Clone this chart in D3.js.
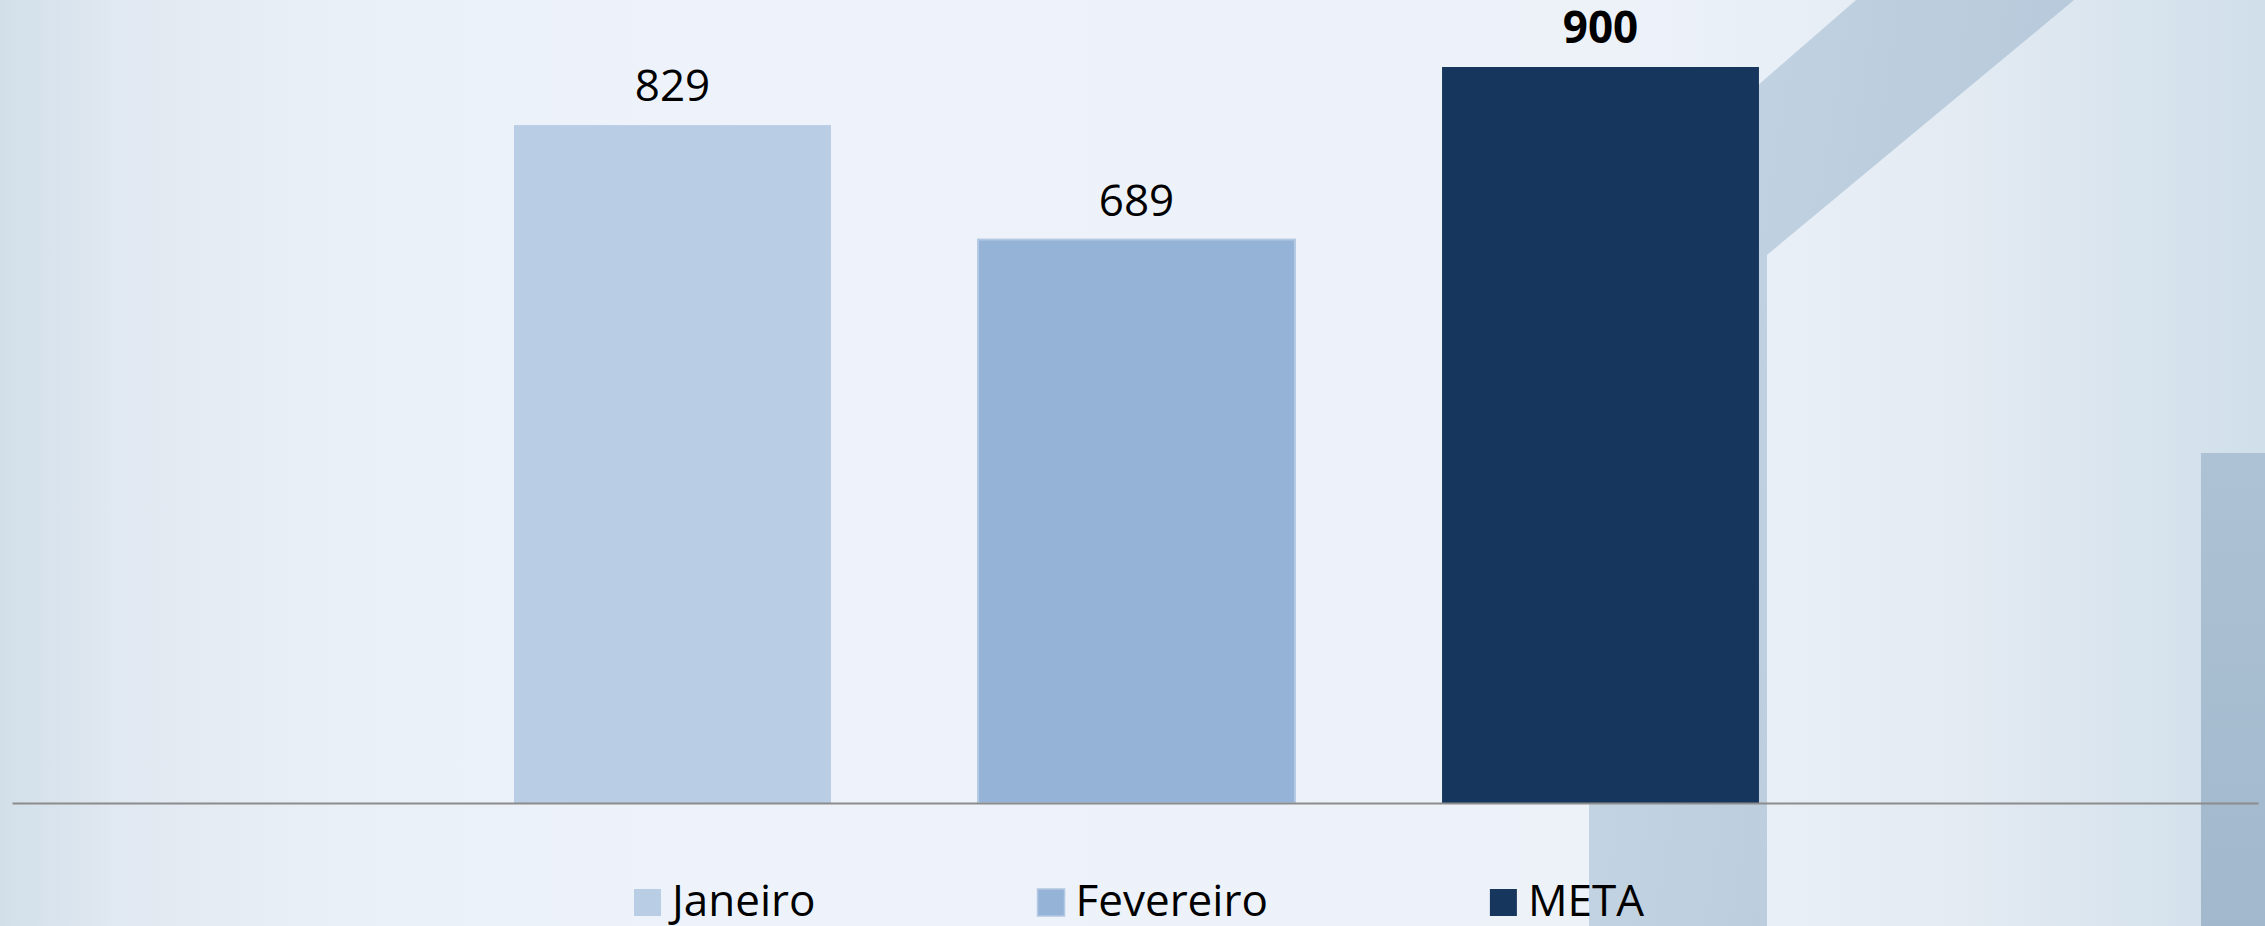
<!DOCTYPE html>
<html>
<head>
<meta charset="utf-8">
<script src="https://d3js.org/d3.v7.min.js"></script>
<style>
  html, body { margin: 0; padding: 0; overflow: hidden; }
  svg { display: block; }
  text { font-family: "Open Sans", "Noto Sans", sans-serif; fill: #000; }
</style>
</head>
<body>
<svg id="chart" width="2265" height="926"></svg>
<script>
// chart data
var categories = ["Janeiro", "Fevereiro", "META"];
var values = [829, 689, 900];
var boldLabel = [false, false, true];
var barColors = ["#b9cde5", "#95b3d7", "#17365d"];

var width = 2265, height = 926;
var baseY = 803;

var svg = d3.select("#chart");
var defs = svg.append("defs");

// background
var bg = defs.append("linearGradient").attr("id", "bg")
  .attr("x1", "0%").attr("x2", "100%").attr("y1", "0%").attr("y2", "0%");
[[0, "#d2dfe9"], [0.05, "#e0e8f1"], [0.15, "#eaf0f7"], [0.3, "#eef3fb"],
 [0.72, "#edf2f9"], [0.86, "#e4ebf3"], [1, "#d0dfea"]].forEach(function(s) {
  bg.append("stop").attr("offset", s[0]).attr("stop-color", s[1]);
});
var shapeGrad = defs.append("linearGradient").attr("id", "shape")
  .attr("x1", "0%").attr("x2", "100%").attr("y1", "0%").attr("y2", "30%");
shapeGrad.append("stop").attr("offset", 0).attr("stop-color", "#c6d6e5");
shapeGrad.append("stop").attr("offset", 1).attr("stop-color", "#b6c9da");
var rectGrad = defs.append("linearGradient").attr("id", "rgrad")
  .attr("x1", "0%").attr("x2", "0%").attr("y1", "0%").attr("y2", "100%");
rectGrad.append("stop").attr("offset", 0).attr("stop-color", "#adc2d4");
rectGrad.append("stop").attr("offset", 1).attr("stop-color", "#a2b8cc");

svg.append("rect").attr("width", width).attr("height", height).attr("fill", "url(#bg)");

// decorative arrow band and right block
svg.append("polygon")
  .attr("points", "1589,926 1589,232 1856,0 2074,0 1767,255 1767,926")
  .attr("fill", "url(#shape)");
svg.append("rect").attr("x", 2201).attr("y", 453).attr("width", 64).attr("height", 473)
  .attr("fill", "url(#rgrad)");

// scales
var x = d3.scaleBand()
  .domain(categories)
  .range([440.5, 1832.5])
  .paddingInner(0.317)
  .paddingOuter(0.1585);

var y = d3.scaleLinear()
  .domain([0, 900])
  .range([baseY, 67]);

var color = d3.scaleOrdinal().domain(categories).range(barColors);

var data = categories.map(function(c, i) {
  return {cat: c, value: values[i], bold: boldLabel[i]};
});

// bars
svg.append("g").selectAll("rect")
  .data(data)
  .enter()
  .append("rect")
  .attr("x", function(d) { return x(d.cat); })
  .attr("y", function(d) { return y(d.value); })
  .attr("width", x.bandwidth())
  .attr("height", function(d) { return y(0) - y(d.value); })
  .attr("fill", function(d) { return color(d.cat); })
  .attr("stroke", function(d, i) { return i == 1 ? "#b3c8e2" : "none"; })
  .attr("stroke-width", 2);

// value labels
svg.append("g").selectAll("text")
  .data(data)
  .enter()
  .append("text")
  .attr("x", function(d) { return x(d.cat) + x.bandwidth() / 2; })
  .attr("y", function(d) { return y(d.value) - 24; })
  .attr("text-anchor", "middle")
  .style("font-size", "44px")
  .style("font-weight", function(d) { return d.bold ? "bold" : "normal"; })
  .text(function(d) { return d.value; });

// axis line
var axis = svg.append("g").attr("transform", "translate(0," + baseY + ")")
  .call(d3.axisBottom(d3.scaleLinear().range([12, 2258])).ticks(0).tickSizeOuter(0));
axis.select(".domain").attr("stroke", "#8c8c8c").attr("stroke-width", 2);

// legend
var legend = svg.append("g");
var items = legend.selectAll("g")
  .data(categories)
  .enter()
  .append("g");
items.append("rect")
  .attr("width", 27).attr("height", 27).attr("y", -27)
  .attr("fill", function(d) { return color(d); })
  .attr("stroke", function(d, i) { return i == 1 ? "#b3c8e2" : "none"; })
  .attr("stroke-width", 1.5);
items.append("text")
  .attr("x", 38)
  .attr("y", 0)
  .style("font-size", "44px")
  .text(function(d) { return d; });

var gap = 222;
var widths = [];
items.each(function() { widths.push(38 + d3.select(this).select("text").node().getComputedTextLength()); });
var total = d3.sum(widths) + gap * (widths.length - 1);
var pos = 1139 - total / 2;
items.attr("transform", function(d, i) {
  var t = "translate(" + pos + ",916)";
  pos += widths[i] + gap;
  return t;
});
</script>
</body>
</html>
